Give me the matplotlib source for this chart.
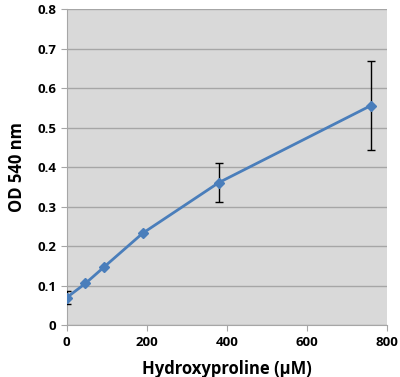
import matplotlib
matplotlib.use('Agg')
import matplotlib.pyplot as plt

# 数据
conc = [0, 47, 94, 190, 380, 760]
od = [0.070, 0.106, 0.148, 0.233, 0.361, 0.556]
err = [0.017, 0, 0, 0, 0.050, 0.113]

plt.rcParams['font.family'] = ['Open Sans', 'DejaVu Sans']

fig = plt.figure(figsize=(4.0, 3.77), dpi=100)
ax = fig.add_axes([0.1665, 0.137, 0.801, 0.839])
ax.set_facecolor('#D9D9D9')

ax.errorbar(conc, od, yerr=err, fmt='none', ecolor='black', elinewidth=1,
            capsize=3, capthick=1, zorder=3)
ax.plot(conc, od, color='#4A7EBB', lw=2, marker='D', ms=5,
        markerfacecolor='#4A7EBB', markeredgecolor='#4A7EBB', zorder=4)

ax.set_xlim(0, 800)
ax.set_ylim(0, 0.8)
ax.set_xticks([0, 200, 400, 600, 800])
ax.set_yticks([0, 0.1, 0.2, 0.3, 0.4, 0.5, 0.6, 0.7, 0.8])
ax.set_yticklabels(['0', '0.1', '0.2', '0.3', '0.4', '0.5', '0.6', '0.7', '0.8'])
ax.grid(axis='y', color='#A6A6A6', lw=1)
ax.set_axisbelow(True)

for s in ['top', 'right']:
    ax.spines[s].set_visible(False)
for s in ['left', 'bottom']:
    ax.spines[s].set_color('#A6A6A6')
ax.tick_params(colors='#A6A6A6', labelcolor='black', length=4, labelsize=9.5)
for lbl in ax.get_xticklabels() + ax.get_yticklabels():
    lbl.set_fontweight('bold')

ax.set_xlabel('Hydroxyproline (µM)', fontsize=12, fontweight='bold', labelpad=8)
ax.set_ylabel('OD 540 nm', fontsize=12, fontweight='bold', labelpad=8)

fig.savefig('out.png', dpi=100)
